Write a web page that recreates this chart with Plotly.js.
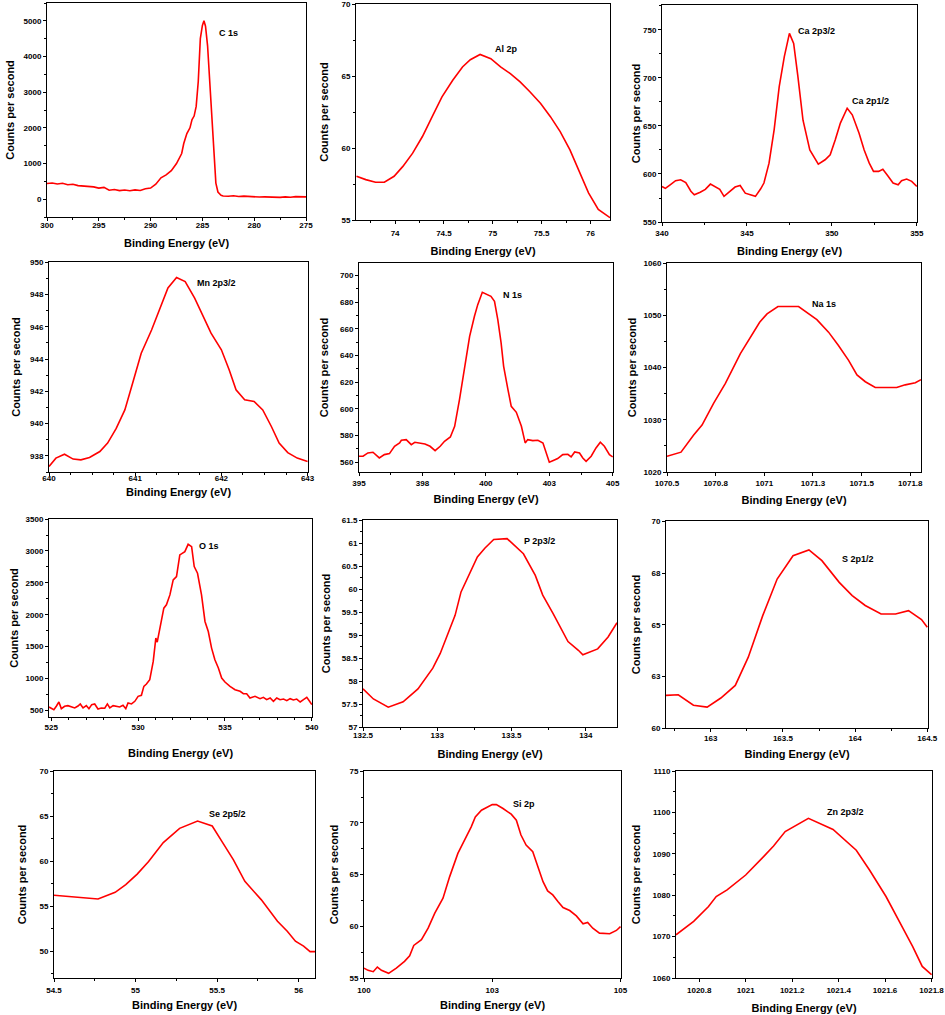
<!DOCTYPE html>
<html><head><meta charset="utf-8">
<script src="https://cdn.plot.ly/plotly-3.0.1.min.js"></script>
<style>html,body{margin:0;padding:0;background:#fff}#chart{width:945px;height:1015px}</style>
</head><body><div id="chart"></div>
<script>
// ---------- data ----------
const c1sX = [300,299.5,299,298.5,298,297.5,297,296.5,296,295.5,295,294.5,294,293.5,293,292.5,292,291.5,291,290.5,290,289.5,289,288.5,288,287.5,287,286.8,286.5,286.2,286,285.8,285.6,285.4,285.2,285,284.85,284.7,284.5,284.3,284.1,283.9,283.7,283.5,283.2,283,282.5,282,281.5,281,280.5,280,279.5,279,278.5,278,277.5,277,276.5,276,275.5,275];
const c1sY = [440,455,425,445,405,420,380,370,340,345,310,330,250,270,240,255,235,260,245,290,310,420,600,680,800,1000,1280,1560,1840,2000,2230,2330,2600,3300,4500,4870,5000,4850,4300,3300,2200,1100,450,200,110,90,80,95,75,85,70,75,60,65,55,60,50,65,55,70,60,65];

const alX = [73.605,73.70,73.80,73.89,73.99,74.08,74.18,74.28,74.38,74.48,74.59,74.69,74.77,74.87,74.98,75.08,75.18,75.28,75.38,75.49,75.59,75.69,75.79,75.89,75.98,76.08,76.2];
const alY = [58.04,57.81,57.63,57.63,58.04,58.73,59.65,60.81,62.19,63.57,64.72,65.65,66.15,66.52,66.22,65.65,65.18,64.61,63.92,63.11,62.19,61.15,59.88,58.27,56.89,55.74,55.16];

const caX = [340,340.2,340.5,340.8,341.1,341.4,341.7,341.9,342.25,342.55,342.85,343.1,343.4,343.65,344.0,344.3,344.6,344.9,345.2,345.5,345.8,346.0,346.3,346.6,346.9,347.2,347.5,347.75,348.0,348.3,348.7,349.2,349.6,349.9,350.2,350.5,350.9,351.2,351.6,351.9,352.2,352.45,352.75,353.0,353.3,353.6,353.9,354.1,354.4,354.7,355];
const caY = [587,585,589,593,594,591,582,578.4,581,584,589.5,587,584,576.7,582,586.4,588,580,578.4,576.7,584.3,590.6,611.3,646,691,722.3,746.5,736,701.5,656,625,610.3,614.8,620,635.6,653,668.5,661.6,642.5,625,611.3,602.7,602.7,605,598,590.6,588.8,593,594.7,592.3,587];

const mnX = [640.0,640.08,640.18,640.28,640.37,640.47,640.59,640.68,640.78,640.88,640.97,641.07,641.19,641.28,641.38,641.48,641.58,641.69,641.78,641.88,642.0,642.09,642.17,642.27,642.38,642.48,642.58,642.67,642.77,642.88,643.0];
const mnY = [937.34,937.86,938.1,937.8,937.75,937.9,938.27,938.79,939.7,940.85,942.5,944.36,945.8,947.05,948.4,949.05,948.8,947.77,946.74,945.6,944.57,943.33,942.09,941.47,941.37,940.85,939.82,938.79,938.2,937.86,937.65];

const n1sX = [395.0,395.16,395.35,395.55,395.8,396.0,396.2,396.4,396.6,396.67,396.86,397.06,397.2,397.4,397.6,397.8,398.0,398.2,398.37,398.6,398.77,398.96,399.16,399.36,399.55,399.68,399.86,400.0,400.2,400.34,400.47,400.6,400.7,400.87,401.0,401.2,401.4,401.55,401.65,401.85,402.05,402.25,402.38,402.5,402.68,402.83,403.03,403.23,403.36,403.5,403.69,403.82,403.95,404.15,404.34,404.51,404.67,404.87,405.0];
const n1sY = [564.5,564.5,567,567.5,563.25,565.75,566.5,572,574.5,576.5,577,573.25,575,574.5,573.75,572,568.75,572,575.75,579,587,607,632,654.5,669.5,678.25,687.5,686.5,684.5,680.75,667,649.5,632,614.5,602,597.5,587,574.5,577,576.25,576.5,574.5,567,560,561.5,562.75,565.75,566,564,567.75,567,563.25,560.75,564.5,570.75,575,572,565.75,564];

const naX = [1070.5,1070.572,1070.637,1070.68,1070.74,1070.8,1070.877,1070.93,1070.976,1071.014,1071.07,1071.176,1071.27,1071.33,1071.38,1071.433,1071.476,1071.519,1071.57,1071.68,1071.724,1071.776,1071.805];
const naY = [1023.0,1023.8,1027.1,1029.0,1033.2,1037.0,1042.7,1045.9,1048.7,1050.3,1051.7,1051.7,1049.2,1046.8,1044.3,1041.4,1038.6,1037.3,1036.2,1036.2,1036.7,1037.1,1037.7];

const o1sX = [524.87,525,525.15,525.29,525.44,525.58,525.77,525.96,526.15,526.35,526.54,526.67,526.83,527.02,527.17,527.33,527.5,527.69,527.88,528.08,528.23,528.37,528.56,528.75,528.94,529.13,529.29,529.42,529.62,529.81,530,530.19,530.33,530.48,530.67,530.87,531.02,531.1,531.21,531.35,531.48,531.63,531.83,532.02,532.21,532.4,532.69,532.88,533.08,533.23,533.42,533.65,533.85,534.04,534.23,534.42,534.62,534.81,535,535.29,535.58,535.87,536.06,536.25,536.44,536.73,537.02,537.21,537.4,537.6,537.79,537.98,538.17,538.37,538.56,538.75,538.94,539.13,539.33,539.52,539.71,539.87,540];
const o1sY = [552,526,510,563,630,526,563,573,552,537,568,600,537,573,526,589,600,521,537,532,600,537,573,557,552,578,526,615,600,641,719,735,876,912,980,1267,1633,1570,1711,1946,2103,2155,2311,2546,2598,2938,2990,3105,3068,2755,2651,2311,1894,1737,1476,1293,1163,1006,944,876,824,798,761,761,693,719,683,704,667,693,641,693,667,677,651,683,662,677,630,667,704,641,589];

const p2X = [132.5,132.57,132.67,132.77,132.87,132.97,133.02,133.07,133.12,133.16,133.22,133.27,133.32,133.38,133.47,133.52,133.58,133.66,133.71,133.78,133.84,133.88,133.95,133.98,134.08,134.15,134.21];
const p2Y = [57.83,57.61,57.43,57.55,57.83,58.28,58.60,59.0,59.43,59.94,60.34,60.70,60.89,61.08,61.10,60.95,60.77,60.30,59.87,59.47,59.11,58.86,58.67,58.57,58.70,58.96,59.27];

const s2X = [162.69,162.775,162.88,162.975,163.07,163.17,163.26,163.36,163.46,163.57,163.68,163.77,163.89,163.98,164.07,164.18,164.28,164.37,164.46,164.5];
const s2Y = [61.58,61.61,61.10,61.01,61.45,62.06,63.43,65.44,67.21,68.34,68.62,68.10,67.05,66.41,65.93,65.52,65.52,65.68,65.25,64.88];

const seX = [54.5,54.64,54.77,54.875,54.94,55.01,55.08,55.17,55.27,55.38,55.47,55.53,55.6,55.67,55.77,55.87,55.93,55.98,56.03,56.07,56.1];
const seY = [56.2,55.98,55.79,56.53,57.38,58.56,59.96,62.07,63.65,64.46,63.91,62.18,60.15,57.75,55.72,53.32,52.21,51.1,50.55,49.93,49.93];

const siX = [100.0,100.08,100.18,100.26,100.34,100.44,100.48,100.63,100.79,100.89,100.97,101.12,101.25,101.38,101.54,101.67,101.83,101.96,102.09,102.17,102.29,102.5,102.58,102.71,102.87,102.97,103.06,103.16,103.29,103.39,103.49,103.58,103.68,103.78,103.88,104.01,104.14,104.27,104.36,104.46,104.59,104.79,104.92,105.0];
const siY = [55.96,55.74,55.61,56.06,55.74,55.48,55.45,55.96,56.61,57.15,58.15,58.70,59.82,61.27,62.72,64.81,67.06,68.34,69.63,70.59,71.24,71.78,71.78,71.40,70.85,70.27,68.83,67.86,67.22,65.77,64.32,63.42,63.04,62.40,61.82,61.53,61.01,60.24,60.37,59.82,59.34,59.28,59.60,59.98];

const znX = [1020.7,1020.776,1020.84,1020.873,1020.92,1020.976,1021.0,1021.076,1021.12,1021.17,1021.22,1021.27,1021.376,1021.476,1021.533,1021.604,1021.676,1021.719,1021.76,1021.8];
const znY = [1070.45,1073.7,1077.3,1079.7,1081.3,1083.7,1084.9,1089.3,1091.9,1095.4,1097.1,1098.6,1095.9,1090.9,1086.1,1079.7,1072.1,1067.6,1062.8,1060.8];

// tick labels that are not plain numbers on the axis
const n1sTicks = [395,397.5,400,402.5,405];
const n1sTickText = ['395','398','400','403','405'];
const naTicks = [1070.5,1070.75,1071,1071.25,1071.5,1071.75];
const naTickText = ['1070.5','1070.8','1071','1071.3','1071.5','1071.8'];
const s2Ticks = [60,62.5,65,67.5,70];
const s2TickText = ['60','63','65','68','70'];
const siTicks = [100,102.5,105];
const siTickText = ['100','103','105'];
const znTicks = [1020.8,1021,1021.2,1021.4,1021.6,1021.8];
const znTickText = ['1020.8','1021','1021.2','1021.4','1021.6','1021.8'];

const labelTexts = [['C 1s'],['Al 2p'],['Ca 2p3/2','Ca 2p1/2'],['Mn 2p3/2'],['N 1s'],['Na 1s'],['O 1s'],['P 2p3/2'],['S 2p1/2'],['Se 2p5/2'],['Si 2p'],['Zn 2p3/2']];
const xTitle = 'Binding Energy (eV)';
const yTitle = 'Counts per second';

// ---------- layout configuration ----------
const W = 945, H = 1015;
const FONT = 'Liberation Sans, Arial, sans-serif';
const panels = [
  {x:c1sX, y:c1sY, box:[47,306,3,217], xr:[300,275], yr:[-500,5500], xa:{dtick:5,tick0:275,minor:2.5}, ya:{dtick:1000,tick0:0,minor:500,fmt:'d'}, lab:[[283.55,4645]], ls:-3, ts:10, ys:6},
  {x:alX, y:alY, box:[356,610,4,220], xr:[73.6,76.2], yr:[55,70.03], xa:{dtick:0.5,tick0:74,minor:0.25}, ya:{dtick:5,tick0:55,minor:2.5}, lab:[[75.0,66.87]], ls:2, ts:10, ys:10},
  {x:caX, y:caY, box:[662,917,5,222], xr:[340,355.01], yr:[550,776], xa:{dtick:5,tick0:340,minor:2.5}, ya:{dtick:50,tick0:550,minor:25}, lab:[[347.88,749],[351.08,676.2]], ls:0, ts:10, ys:0},
  {x:mnX, y:mnY, box:[49,308,262,472], xr:[640,643.005], yr:[937,950.01], xa:{dtick:1,tick0:640,minor:0.25}, ya:{dtick:2,tick0:938,minor:1}, lab:[[641.695,948.74]], ls:-5, ts:6, ys:7},
  {x:n1sX, y:n1sY, box:[359,613,263,472], xr:[395,405.01], yr:[552.7,709.5], xa:{vals:n1sTicks, text:n1sTickText, minorVals:[396.25,398.75,401.25,403.75]}, ya:{dtick:20,tick0:560,minor:10}, lab:[[400.6,685.25]], ls:0, ts:8, ys:9},
  {x:naX, y:naY, box:[667,921,263,472], xr:[1070.5,1071.805], yr:[1020,1060.05], xa:{vals:naTicks, text:naTickText}, ya:{dtick:10,tick0:1020,minor:5}, lab:[[1071.236,1052.1]], ls:0, ts:9, ys:4},
  {x:o1sX, y:o1sY, box:[49,312,519,717], xr:[524.87,540.01], yr:[395,3502], xa:{dtick:5,tick0:525,minor:1}, ya:{dtick:500,tick0:500,minor:250,fmt:'d'}, lab:[[533.37,3084]], ls:-1, ts:18, ys:4},
  {x:p2X, y:p2Y, box:[363,617,520,727], xr:[132.5,134.21], yr:[57,61.505], xa:{dtick:0.5,tick0:132.5,minor:0.25}, ya:{dtick:0.5,tick0:57,minor:0.25}, lab:[[133.57,61.04]], ls:-3, ts:11, ys:8},
  {x:s2X, y:s2Y, box:[666,928,521,728], xr:[162.69,164.505], yr:[60,70.02], xa:{dtick:0.5,tick0:163,minor:0.25}, ya:{vals:s2Ticks, text:s2TickText}, lab:[[163.894,68.18]], ls:-1, ts:8, ys:8},
  {x:seX, y:seY, box:[54,315,771,978], xr:[54.5,56.1], yr:[47,70.03], xa:{dtick:0.5,tick0:54.5,minor:0.25}, ya:{dtick:5,tick0:50,minor:2.5}, lab:[[55.44,65.2]], ls:1, ts:7, ys:10},
  {x:siX, y:siY, box:[364,621,771,978], xr:[100,105.01], yr:[55,75.03], xa:{vals:siTicks, text:siTickText}, ya:{dtick:5,tick0:55,minor:2.5}, lab:[[102.87,71.88]], ls:1, ts:7, ys:8},
  {x:znX, y:znY, box:[676,932,771,978], xr:[1020.7,1021.802], yr:[1060,1110.05], xa:{vals:znTicks, text:znTickText}, ya:{dtick:10,tick0:1060,minor:5}, lab:[[1021.34,1100.2]], ls:1, ts:10, ys:9}
];

function axisBase(){
  return {
    showline:true, linecolor:'#000', linewidth:1, mirror:true,
    ticks:'outside', ticklen:3, tickwidth:1, tickcolor:'#000',
    tickfont:{family:FONT, size:8, color:'#000', weight:'bold'},
    showgrid:false, zeroline:false, automargin:false, fixedrange:true,
    separatethousands:false
  };
}
function applyTicks(ax, t){
  if(t.vals){
    ax.tickmode='array'; ax.tickvals=t.vals; ax.ticktext=t.text;
    if(t.minorVals){ ax.minor={tickmode:'array', tickvals:t.minorVals, ticks:'outside', ticklen:2, tickcolor:'#000', showgrid:false}; }
  } else {
    ax.tickmode='linear'; ax.dtick=t.dtick; ax.tick0=t.tick0;
    if(t.minor){ ax.minor={dtick:t.minor, tick0:t.tick0, ticks:'outside', ticklen:2, tickcolor:'#000', showgrid:false}; }
    if(t.fmt) ax.tickformat=t.fmt;
  }
}

const traces = [];
const layout = {
  width:W, height:H, margin:{l:0,r:0,t:0,b:0}, paper_bgcolor:'#fff', plot_bgcolor:'#fff',
  showlegend:false, font:{family:FONT, color:'#000'}, annotations:[]
};
panels.forEach((p,i)=>{
  const n = i+1, sx = n===1?'':String(n);
  traces.push({x:p.x, y:p.y, type:'scatter', mode:'lines', xaxis:'x'+sx, yaxis:'y'+sx,
    line:{color:'#ff0000', width:1.6}, hoverinfo:'skip'});
  const [l,r,t,b] = p.box;
  const xa = axisBase(), ya = axisBase();
  xa.domain=[l/W, r/W]; ya.domain=[1-b/H, 1-t/H];
  xa.anchor='y'+sx; ya.anchor='x'+sx;
  xa.range=p.xr; ya.range=p.yr;
  applyTicks(xa, p.xa); applyTicks(ya, p.ya);
  xa.ticklabelstandoff = p.ls;
  xa.title={text:xTitle, font:{family:FONT, size:11, color:'#000', weight:'bold'}, standoff:p.ts};
  ya.title={text:yTitle, font:{family:FONT, size:11, color:'#000', weight:'bold'}, standoff:p.ys};
  layout['xaxis'+sx]=xa; layout['yaxis'+sx]=ya;
  p.lab.forEach((pos,k)=>{
    layout.annotations.push({x:pos[0], y:pos[1], xref:'x'+sx, yref:'y'+sx, text:labelTexts[i][k],
      showarrow:false, xanchor:'left', yanchor:'middle', font:{family:FONT, size:9, color:'#000', weight:'bold'}});
  });
});

Plotly.newPlot('chart', traces, layout, {staticPlot:true, displayModeBar:false});
</script></body></html>
